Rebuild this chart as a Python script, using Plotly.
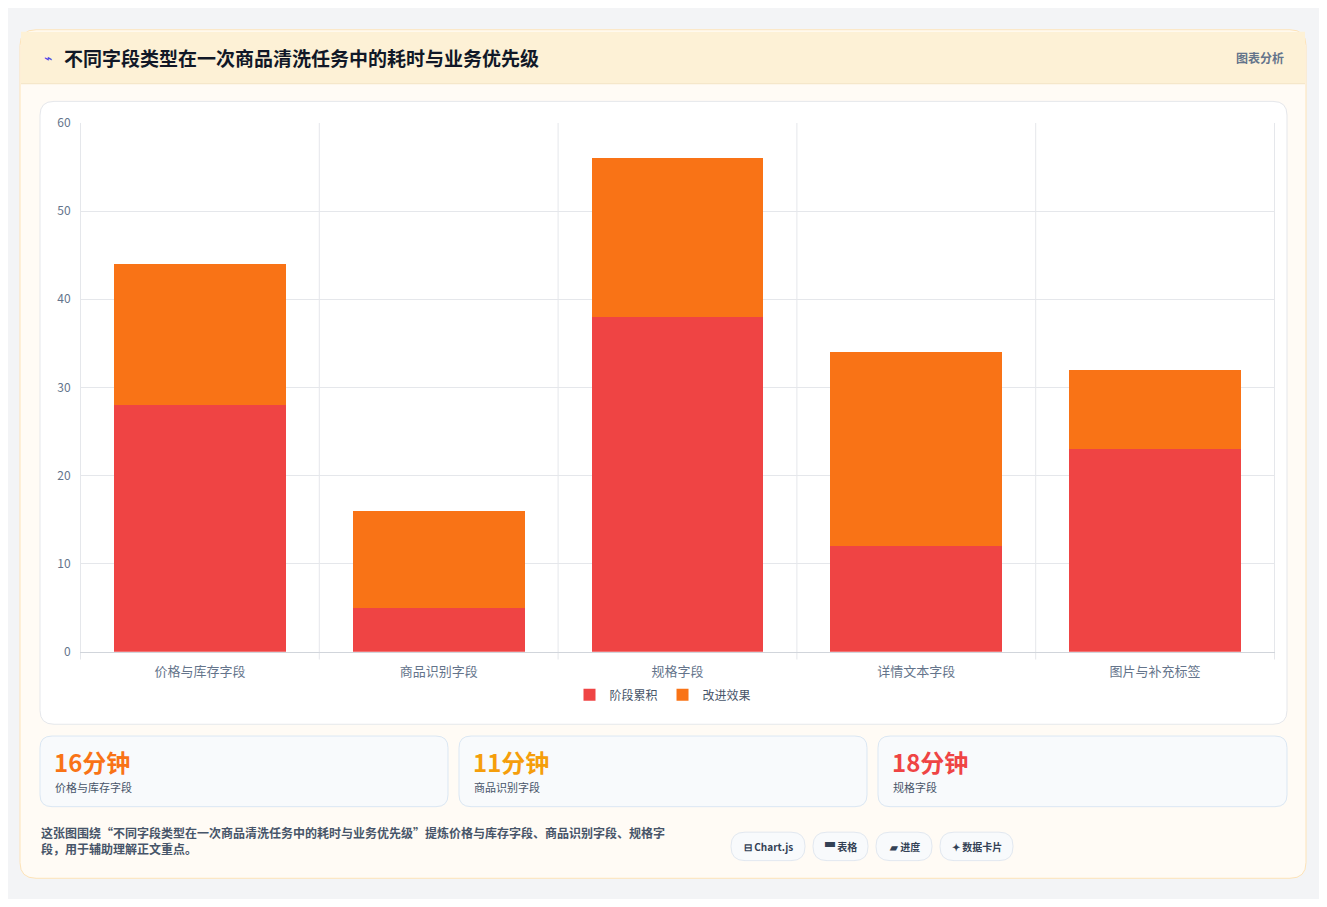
import plotly.graph_objects as go

# 数据
categories = ["价格与库存字段", "商品识别字段", "规格字段", "详情文本字段", "图片与补充标签"]
stage_acc = [28, 5, 38, 12, 23]
improve = [16, 11, 18, 22, 9]
card_values = ["16分钟", "11分钟", "18分钟"]
card_labels = ["价格与库存字段", "商品识别字段", "规格字段"]
card_colors = ["#f97316", "#f59e0b", "#ef4444"]
chips = ["⊟ Chart.js", "▀ 表格", "▰ 进度", "✦ 数据卡片"]

OFF = 8
W, H = 1327 - 2 * OFF, 907 - 2 * OFF
FONT = "Noto Sans CJK SC"


def px(x):
    return (x - OFF) / W


def py(y):
    return 1 - (y - OFF) / H


def rrect(x0, y0, x1, y1, r, fill, line, lw=1):
    X0, X1 = px(x0), px(x1)
    Y0, Y1 = py(y0), py(y1)
    rx, ry = r / W, r / H
    path = (f"M{X0+rx},{Y0} L{X1-rx},{Y0} Q{X1},{Y0} {X1},{Y0-ry} "
            f"L{X1},{Y1+ry} Q{X1},{Y1} {X1-rx},{Y1} L{X0+rx},{Y1} "
            f"Q{X0},{Y1} {X0},{Y1+ry} L{X0},{Y0-ry} Q{X0},{Y0} {X0+rx},{Y0} Z")
    return dict(type="path", xref="paper", yref="paper", path=path,
                fillcolor=fill, line=dict(color=line, width=lw), layer="below")


def note(x, y, text, size, color, anchor="left", align="left"):
    return dict(xref="paper", yref="paper", x=px(x), y=py(y), text=text, showarrow=False,
                xanchor=anchor, yanchor="middle", align=align,
                font=dict(size=size, color=color, family=FONT))


fig = go.Figure()
fig.add_trace(go.Bar(x=categories, y=stage_acc, name="阶段累积",
                     marker=dict(color="#ef4444", line=dict(width=0)), width=0.72))
fig.add_trace(go.Bar(x=categories, y=improve, name="改进效果",
                     marker=dict(color="#f97316", line=dict(width=0)), width=0.72))

shapes = [
    rrect(20, 20, 1306, 885, 16, "#fffbf5", "#fde3b8"),
    dict(type="rect", xref="paper", yref="paper", x0=px(21), x1=px(1305), y0=py(75), y1=py(22),
         fillcolor="#fdf1d6", line=dict(width=0), layer="below"),
    dict(type="line", xref="paper", yref="paper", x0=px(21), x1=px(1305), y0=py(75), y1=py(75),
         line=dict(color="#f3e3c4", width=1), layer="below"),
    rrect(40, 93, 1287, 728, 14, "#ffffff", "#e5e7eb"),
]
ann = [
    note(42, 48, "⌁", 14, "#4f46e5"),
    note(62, 48, "<b>不同字段类型在一次商品清洗任务中的耗时与业务优先级</b>", 19, "#111827"),
    note(1286, 48, "<b>图表分析</b>", 12, "#64748b", anchor="right"),
]
card_x = [(40, 448), (459, 867), (878, 1287)]
for (x0, x1), v, lab, c in zip(card_x, card_values, card_labels, card_colors):
    shapes.append(rrect(x0, 740, x1, 812, 12, "#f8fafc", "#dbe7f3"))
    ann.append(note(x0 + 12, 766, f"<b>{v}</b>", 24, c))
    ann.append(note(x0 + 13, 792, lab, 11, "#475569"))

ann.append(note(39, 847,
                "<b>这张图围绕“不同字段类型在一次商品清洗任务中的耗时与业务优先级”提炼价格与库存字段、商品识别字段、规格字<br>段，用于辅助理解正文重点。</b>",
                12, "#475569"))
chip_x = [(731, 805), (813, 868), (876, 932), (940, 1013)]
for (x0, x1), t in zip(chip_x, chips):
    shapes.append(rrect(x0, 838, x1, 867, 14, "#f8fafc", "#e2e8f0"))
    ann.append(note((x0 + x1) / 2, 853, f"<b>{t}</b>", 10, "#334155", anchor="center"))

fig.update_layout(
    width=W, height=H, margin=dict(l=0, r=0, t=0, b=0),
    paper_bgcolor="#f3f4f6", plot_bgcolor="rgba(0,0,0,0)",
    barmode="stack", shapes=shapes, annotations=ann,
    font=dict(family=FONT, color="#64748b", size=12),
    legend=dict(orientation="h", x=px(663), xanchor="center", y=py(698), yanchor="middle",
                font=dict(size=12, color="#475569"), traceorder="normal",
                bgcolor="rgba(0,0,0,0)"),
    xaxis=dict(domain=[px(80), px(1275)], showgrid=False, linecolor="#d1d5db", ticks="outside",
               ticklen=8, tickcolor="rgba(0,0,0,0)", tickfont=dict(size=13, color="#64748b")),
    yaxis=dict(domain=[py(654), py(115)], range=[0, 60], dtick=10, gridcolor="#e5e7eb",
               zeroline=False, tickfont=dict(size=12, color="#64748b"), ticks="outside",
               ticklen=6, tickcolor="rgba(0,0,0,0)"),
)
# 垂直分隔网格线
for i in range(0, 6):
    fig.add_shape(type="line", xref="x", yref="paper", x0=i - 0.5, x1=i - 0.5,
                  y0=py(662), y1=py(115), line=dict(color="#e5e7eb", width=1), layer="below")

fig.write_html("out.html")
